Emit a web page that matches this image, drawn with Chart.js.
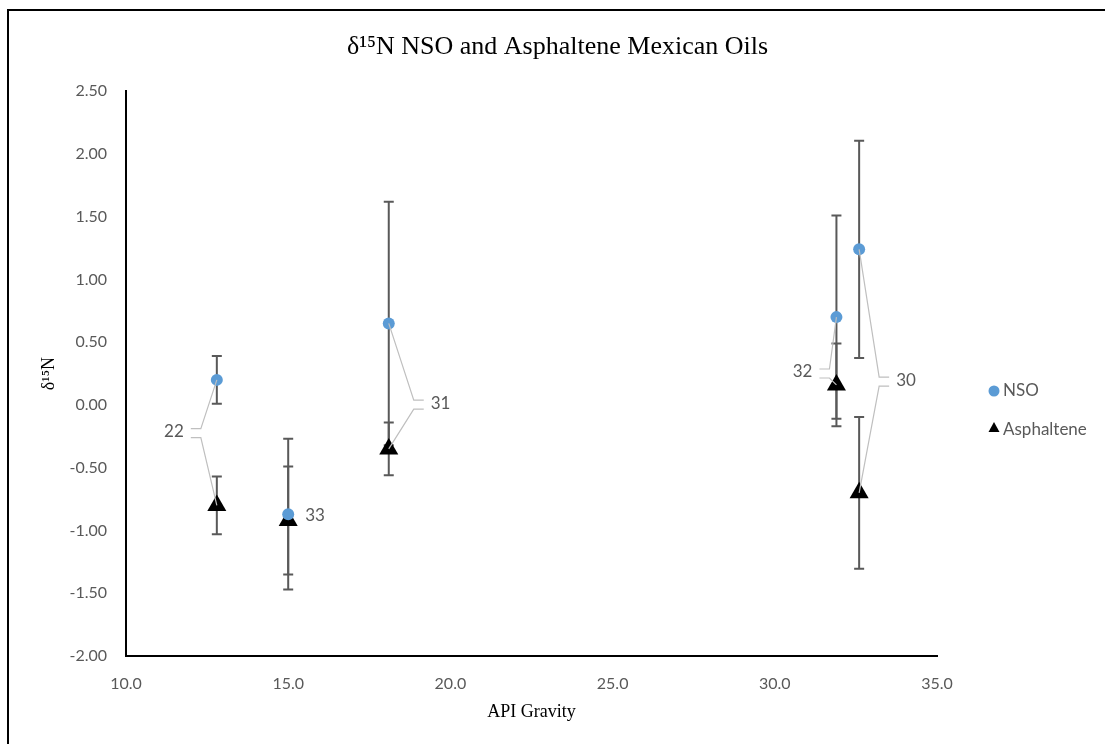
<!DOCTYPE html>
<html>
<head>
<meta charset="utf-8">
<title>δ15N NSO and Asphaltene Mexican Oils</title>
<script src="https://cdn.jsdelivr.net/npm/chart.js@4.4.1/dist/chart.umd.min.js"></script>
<style>
    html, body { margin: 0; padding: 0; background: #fff; }
    #chartBox { width: 1105px; height: 744px; }
</style>
</head>
<body>
<div id="chartBox"><canvas id="isoChart" width="1105" height="744"></canvas></div>
<script>
// Data
const sampleIds = ['22', '33', '31', '32', '30'];
const apiGravity = [12.8, 15.0, 18.1, 31.9, 32.6];
const nsoValues = [0.20, -0.87, 0.65, 0.70, 1.24];
const nsoErrors = [0.19, 0.60, 0.97, 0.81, 0.865];
const asphValues = [-0.80, -0.92, -0.35, 0.16, -0.70];
const asphErrors = [0.23, 0.43, 0.21, 0.33, 0.605];
const yTicks = [-2.0, -1.5, -1.0, -0.5, 0.0, 0.5, 1.0, 1.5, 2.0, 2.5];
const xTicks = [10, 15, 20, 25, 30, 35];

// Label placement (pixels, relative to the pair of points)
const labelPlacement = {
    '22': { side: 'left', gap: 33, dy: -11, leaders: true },
    '33': { side: 'right', gap: 17, dy: -2, leaders: false },
    '31': { side: 'right', gap: 42, dy: 17, leaders: true },
    '32': { side: 'left', gap: 24, dy: 21, leaders: true },
    '30': { side: 'right', gap: 37, dy: 9, leaders: true }
};

const sansFont = 'Lato, "Open Sans", sans-serif';
const serifFont = '"Liberation Serif", "DejaVu Serif", serif';
const nsoColor = '#5b9bd5';
const asphColor = '#000000';

function toPoints(values) {
    return apiGravity.map((x, i) => ({ x: x, y: values[i] }));
}

// Error bars, drawn under the markers
const errorBarPlugin = {
    id: 'errorBars',
    beforeDatasetsDraw(chart) {
        const { ctx, scales: { x, y } } = chart;
        const sets = [[nsoValues, nsoErrors], [asphValues, asphErrors]];
        ctx.save();
        ctx.strokeStyle = '#595959';
        ctx.lineWidth = 2;
        sets.forEach(([vals, errs]) => {
            vals.forEach((v, i) => {
                const px = x.getPixelForValue(apiGravity[i]);
                const top = y.getPixelForValue(v + errs[i]);
                const bottom = y.getPixelForValue(v - errs[i]);
                ctx.beginPath();
                ctx.moveTo(px, top);
                ctx.lineTo(px, bottom);
                ctx.moveTo(px - 5, top);
                ctx.lineTo(px + 5, top);
                ctx.moveTo(px - 5, bottom);
                ctx.lineTo(px + 5, bottom);
                ctx.stroke();
            });
        });
        ctx.restore();
    }
};

// Sample labels with leader lines, legend and outer frame
const overlayPlugin = {
    id: 'overlay',
    afterDatasetsDraw(chart) {
        const { ctx, scales: { x, y } } = chart;
        ctx.save();
        ctx.font = '17px ' + sansFont;
        ctx.textBaseline = 'middle';
        sampleIds.forEach((id, i) => {
            const place = labelPlacement[id];
            const px = x.getPixelForValue(apiGravity[i]);
            const pyN = y.getPixelForValue(nsoValues[i]);
            const pyA = y.getPixelForValue(asphValues[i]);
            const ty = (pyN + pyA) / 2 + place.dy;
            const dir = place.side === 'left' ? -1 : 1;
            const edge = px + dir * place.gap;
            ctx.fillStyle = '#595959';
            ctx.textAlign = place.side === 'left' ? 'right' : 'left';
            ctx.fillText(id, edge, ty);
            if (place.leaders) {
                const near = edge - dir * 7;
                const far = edge - dir * 17;
                ctx.strokeStyle = '#bfbfbf';
                ctx.lineWidth = 1.2;
                ctx.beginPath();
                ctx.moveTo(near, ty - 3);
                ctx.lineTo(far, ty - 3);
                ctx.lineTo(px, pyN);
                ctx.moveTo(near, ty + 6);
                ctx.lineTo(far, ty + 6);
                ctx.lineTo(px, pyA);
                ctx.stroke();
            }
        });

        // legend
        ctx.font = '17px ' + sansFont;
        ctx.textAlign = 'left';
        ctx.fillStyle = '#595959';
        ctx.fillText(chart.data.datasets[0].label, 1003, 391);
        ctx.fillText(chart.data.datasets[1].label, 1003, 430);
        ctx.fillStyle = nsoColor;
        ctx.beginPath();
        ctx.arc(994, 391, 5.5, 0, Math.PI * 2);
        ctx.fill();
        ctx.fillStyle = asphColor;
        ctx.beginPath();
        ctx.moveTo(994, 422);
        ctx.lineTo(999.5, 432);
        ctx.lineTo(988.5, 432);
        ctx.closePath();
        ctx.fill();

        // frame
        ctx.strokeStyle = '#000';
        ctx.lineWidth = 2;
        ctx.strokeRect(8, 10, 1200, 800);
        ctx.restore();
    }
};

const ctx = document.getElementById('isoChart').getContext('2d');
const isoChart = new Chart(ctx, {
    type: 'scatter',
    data: {
        datasets: [{
            label: 'NSO',
            data: toPoints(nsoValues),
            pointStyle: 'circle',
            pointRadius: 6,
            pointHoverRadius: 6,
            backgroundColor: nsoColor,
            borderColor: nsoColor,
            borderWidth: 0
        }, {
            label: 'Asphaltene',
            data: toPoints(asphValues),
            pointStyle: 'triangle',
            pointRadius: 11,
            pointHoverRadius: 11,
            backgroundColor: asphColor,
            borderColor: asphColor,
            borderWidth: 0
        }]
    },
    options: {
        responsive: false,
        animation: false,
        events: [],
        layout: {
            padding: { left: 10, right: 0, top: 0, bottom: 0 }
        },
        plugins: {
            legend: { display: false },
            tooltip: { enabled: false },
            title: {
                display: true,
                text: 'δ¹⁵N NSO and Asphaltene Mexican Oils',
                color: '#000',
                font: { family: serifFont, size: 26, weight: 'normal', lineHeight: 1.2 },
                padding: { top: 32, bottom: 28 }
            }
        },
        scales: {
            x: {
                type: 'linear',
                min: 10,
                max: 35,
                afterBuildTicks: (scale) => { scale.ticks = xTicks.map(v => ({ value: v })); },
                afterFit: (scale) => { scale.height = 744 - 656; },
                grid: { display: false },
                border: { display: true, color: '#000', width: 2 },
                ticks: {
                    color: '#595959',
                    font: { family: sansFont, size: 16 },
                    padding: 10,
                    callback: (v) => Number(v).toFixed(1)
                },
                title: {
                    display: true,
                    text: 'API Gravity',
                    color: '#000',
                    font: { family: serifFont, size: 18 },
                    padding: { top: 0, bottom: 21 }
                }
            },
            y: {
                type: 'linear',
                min: -2,
                max: 2.5,
                afterBuildTicks: (scale) => { scale.ticks = yTicks.map(v => ({ value: v })); },
                afterFit: (scale) => { scale.width = 126 - 10; },
                grid: { display: false },
                border: { display: true, color: '#000', width: 2 },
                ticks: {
                    color: '#595959',
                    font: { family: sansFont, size: 16 },
                    padding: 11,
                    callback: (v) => Number(v).toFixed(2)
                },
                title: {
                    display: true,
                    text: 'δ¹⁵N',
                    color: '#000',
                    font: { family: serifFont, size: 18 },
                    padding: { top: 28, bottom: 0 }
                }
            },
            // empty right-hand axis that reserves the legend column
            legendSpace: {
                type: 'linear',
                position: 'right',
                display: true,
                afterFit: (scale) => { scale.width = 1105 - 937; },
                grid: { display: false },
                border: { display: false },
                ticks: { display: false }
            }
        }
    },
    plugins: [errorBarPlugin, overlayPlugin]
});
</script>
</body>
</html>
